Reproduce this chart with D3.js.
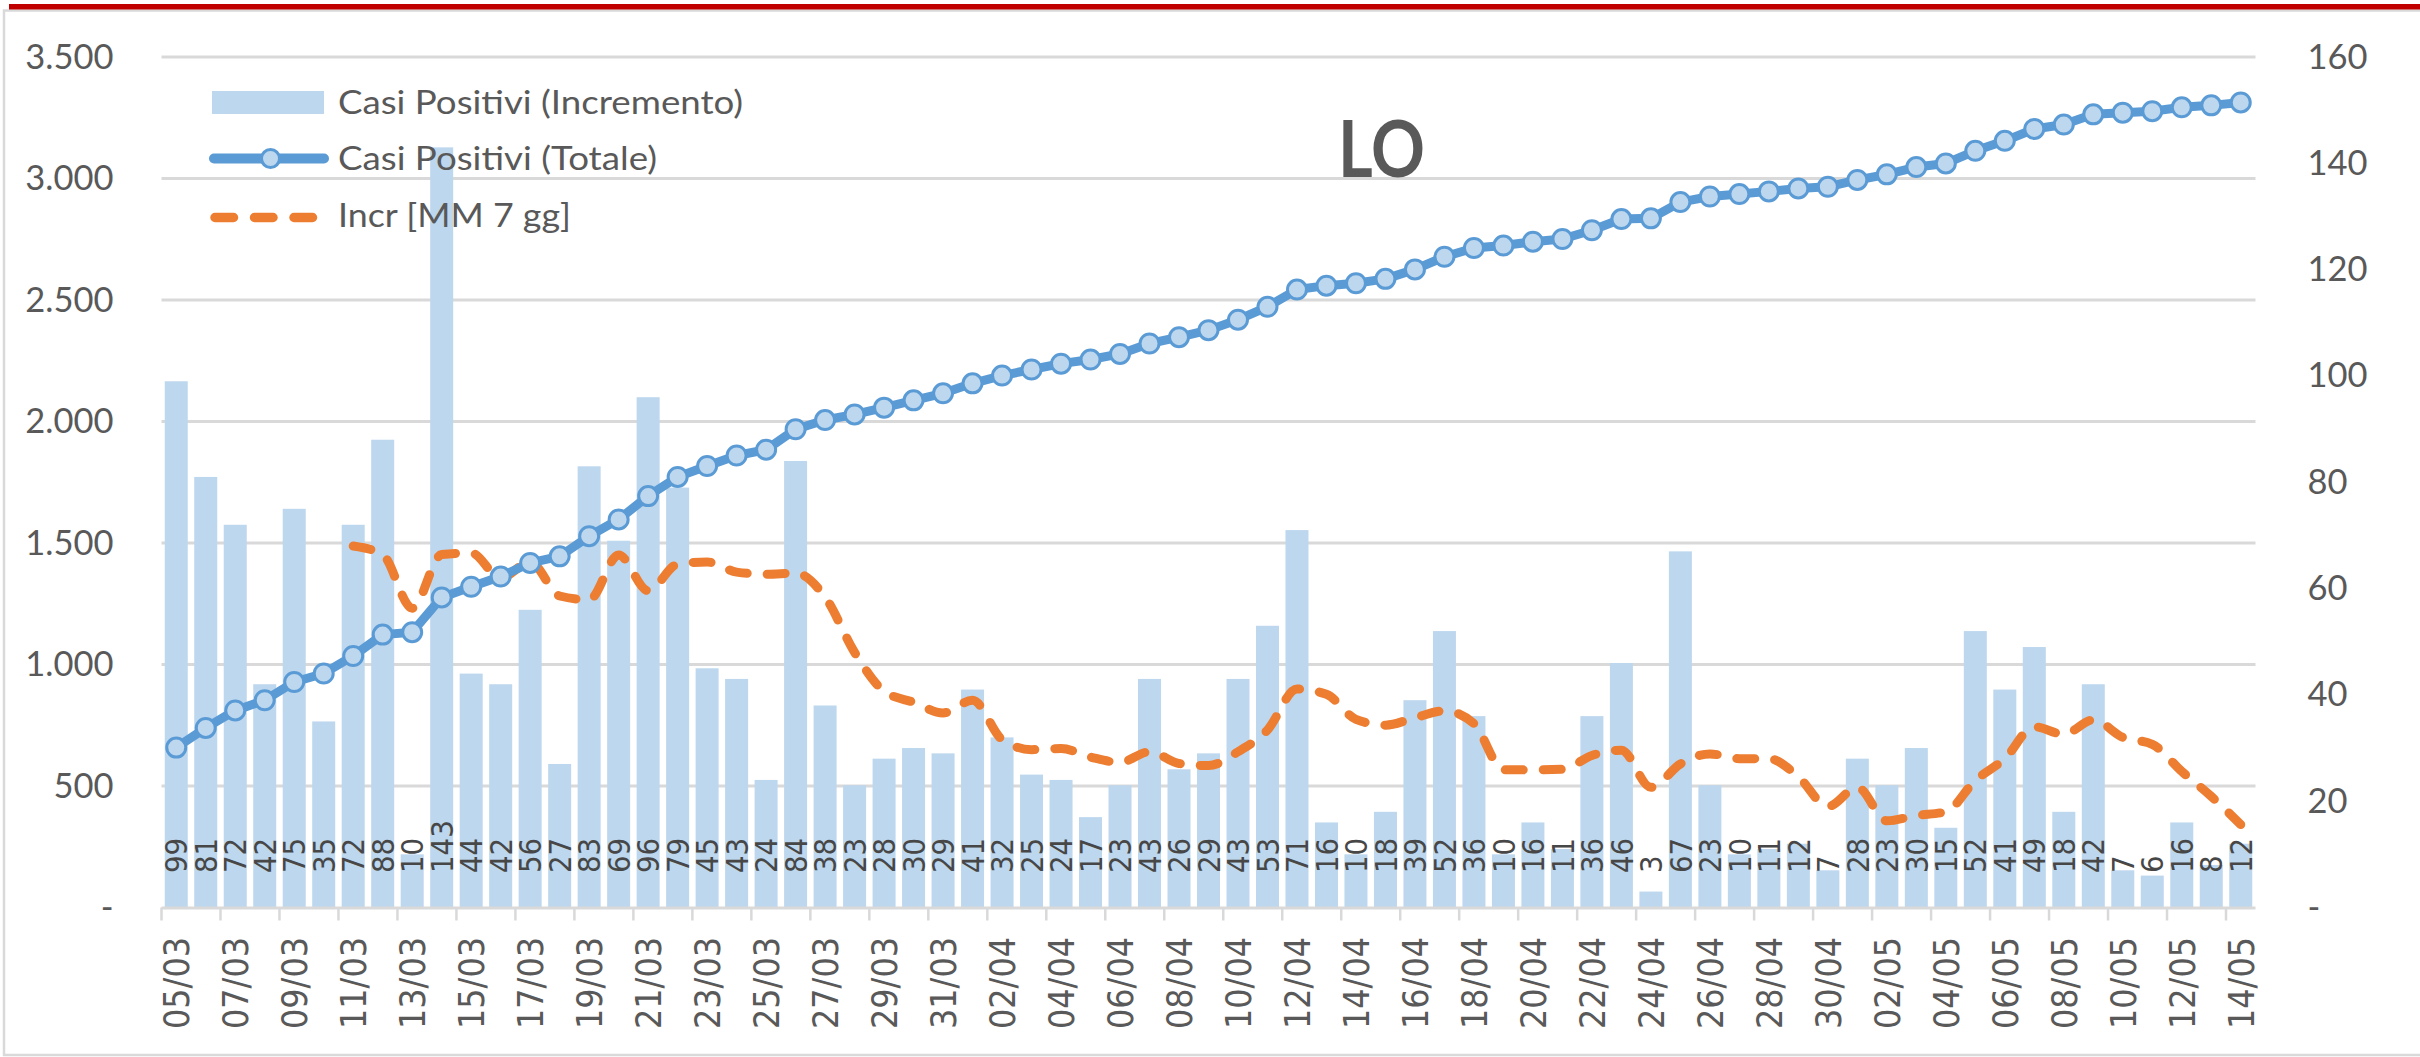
<!DOCTYPE html>
<html>
<head>
<meta charset="utf-8">
<script src="https://cdn.jsdelivr.net/npm/d3@7"></script>
<style>
  html, body { margin: 0; padding: 0; background: #ffffff; overflow: hidden; }
</style>
</head>
<body>
<svg id="chart" width="2420" height="1057"></svg>
<script>
// Daily dates, 05/03 → 14/05
const dates = [
  "05/03","06/03","07/03","08/03","09/03","10/03","11/03","12/03","13/03","14/03",
  "15/03","16/03","17/03","18/03","19/03","20/03","21/03","22/03","23/03","24/03",
  "25/03","26/03","27/03","28/03","29/03","30/03","31/03",
  "01/04","02/04","03/04","04/04","05/04","06/04","07/04","08/04","09/04","10/04",
  "11/04","12/04","13/04","14/04","15/04","16/04","17/04","18/04","19/04","20/04",
  "21/04","22/04","23/04","24/04","25/04","26/04","27/04","28/04","29/04","30/04",
  "01/05","02/05","03/05","04/05","05/05","06/05","07/05","08/05","09/05","10/05",
  "11/05","12/05","13/05","14/05"
];

// Casi Positivi (Incremento) – daily new cases
const incremento = [
  99, 81, 72, 42, 75, 35, 72, 88, 10, 143,
  44, 42, 56, 27, 83, 69, 96, 79, 45, 43,
  24, 84, 38, 23, 28, 30, 29,
  41, 32, 25, 24, 17, 23, 43, 26, 29, 43,
  53, 71, 16, 10, 18, 39, 52, 36, 10, 16,
  11, 36, 46, 3, 67, 23, 10, 11, 12, 7,
  28, 23, 30, 15, 52, 41, 49, 18, 42, 7,
  6, 16, 8, 12
];

// Casi Positivi (Totale) – cumulative cases
const totale = [
  658, 739, 811, 853, 928, 963, 1035, 1123, 1133, 1276,
  1320, 1362, 1418, 1445, 1528, 1597, 1693, 1772, 1817, 1860,
  1884, 1968, 2006, 2029, 2057, 2087, 2116,
  2157, 2189, 2214, 2238, 2255, 2278, 2321, 2347, 2376, 2419,
  2472, 2543, 2559, 2569, 2587, 2626, 2678, 2714, 2724, 2740,
  2751, 2787, 2833, 2836, 2903, 2926, 2936, 2947, 2959, 2966,
  2994, 3017, 3047, 3062, 3114, 3155, 3204, 3222, 3264, 3271,
  3277, 3293, 3301, 3313
];

// Incr [MM 7 gg] – 7-day moving average of the daily increment
const mediaMobile7 = [
  null, null, null, null, null, null, 68.0, 66.4, 56.3, 66.4,
  66.7, 62.0, 65.0, 58.6, 57.9, 66.3, 59.6, 64.6, 65.0, 63.1,
  62.7, 62.9, 58.4, 48.0, 40.7, 38.6, 36.6,
  39.0, 31.6, 29.7, 29.9, 28.3, 27.3, 29.3, 27.1, 26.7, 29.3,
  33.4, 41.1, 40.1, 35.4, 34.3, 35.7, 37.0, 34.6, 25.9, 25.9,
  26.0, 28.6, 29.6, 22.6, 27.0, 28.9, 28.0, 28.0, 24.6, 19.0,
  22.6, 16.3, 17.3, 18.0, 23.9, 28.0, 34.0, 32.6, 35.3, 32.0,
  30.7, 25.6, 20.9, 15.6
];

const leftTicks = [0, 500, 1000, 1500, 2000, 2500, 3000, 3500];
const rightTicks = [0, 20, 40, 60, 80, 100, 120, 140, 160];
const seriesNames = ["Casi Positivi (Incremento)", "Casi Positivi (Totale)", "Incr [MM 7 gg]"];
const areaLabel = "LO";

// ---------------------------------------------------------------------------
const plot = { left: 161.5, right: 2255.5, top: 57, bottom: 907.5 };
const C = {
  bar: "#bdd7ee", line: "#5b9bd5", marker: "#bdd7ee", avg: "#ed7d31",
  grid: "#d9d9d9", text: "#595959", label: "#474747", red: "#c00000"
};
const svg = d3.select("#chart");

// outer frame and red top rule
svg.append("rect").attr("x", 4).attr("y", 10.5).attr("width", 2440).attr("height", 1044.5)
  .attr("fill", "none").attr("stroke", C.grid).attr("stroke-width", 2.5);
svg.append("rect").attr("x", 9).attr("y", 4).attr("width", 2411).attr("height", 5.5)
  .attr("fill", C.red);

// scales
const x = d3.scaleBand().domain(dates).range([plot.left, plot.right]).padding(0);
const bw = x.bandwidth();
const cx = d => x(d) + bw / 2;
const yL = d3.scaleLinear().domain([0, 3500]).range([plot.bottom, plot.top]);
const yR = d3.scaleLinear().domain([0, 160]).range([plot.bottom, plot.top]);

// horizontal gridlines on the left-axis ticks
svg.append("g").selectAll("line")
  .data(leftTicks.filter(t => t > 0))
  .join("line")
  .attr("x1", plot.left).attr("x2", plot.right)
  .attr("y1", d => yL(d)).attr("y2", d => yL(d))
  .attr("stroke", C.grid).attr("stroke-width", 3);

// y axes
const fmtIt = d => d === 0 ? "-" : d3.format(",")(d).replace(/,/g, ".");
const gL = svg.append("g")
  .attr("transform", `translate(${plot.left},0)`)
  .call(d3.axisLeft(yL).tickValues(leftTicks).tickSize(0).tickPadding(48).tickFormat(fmtIt));
gL.select(".domain").remove();
gL.attr("font-family", "Lato, 'Open Sans', sans-serif").attr("font-size", 34.5);
gL.selectAll("text").attr("fill", C.text);

const gR = svg.append("g")
  .attr("transform", `translate(${plot.right},0)`)
  .call(d3.axisRight(yR).tickValues(rightTicks).tickSize(0).tickPadding(52)
    .tickFormat(d => d === 0 ? "-" : String(d)));
gR.select(".domain").remove();
gR.attr("font-family", "Lato, 'Open Sans', sans-serif").attr("font-size", 34.5);
gR.selectAll("text").attr("fill", C.text);

// bars: daily increment (right axis)
const barW = 23;
svg.append("g").selectAll("rect")
  .data(dates)
  .join("rect")
  .attr("x", (d) => x(d) + (bw - barW) / 2)
  .attr("y", (d, i) => yR(incremento[i]))
  .attr("width", barW)
  .attr("height", (d, i) => plot.bottom - yR(incremento[i]))
  .attr("fill", C.bar);

// category axis line, ticks every second day
svg.append("line")
  .attr("x1", plot.left).attr("x2", plot.right)
  .attr("y1", plot.bottom + 0.5).attr("y2", plot.bottom + 0.5)
  .attr("stroke", C.grid).attr("stroke-width", 3);
const everyOther = dates.filter((d, i) => i % 2 === 0);
svg.append("g").selectAll("line")
  .data(everyOther)
  .join("line")
  .attr("x1", d => x(d)).attr("x2", d => x(d))
  .attr("y1", plot.bottom).attr("y2", plot.bottom + 13)
  .attr("stroke", C.grid).attr("stroke-width", 2.5);

svg.append("g").selectAll("text")
  .data(everyOther)
  .join("text")
  .attr("transform", d => `translate(${cx(d)},937) rotate(-90)`)
  .attr("text-anchor", "end")
  .attr("dy", "0.36em")
  .attr("font-family", "'DejaVu Sans', Verdana, sans-serif")
  .attr("font-size", 36)
  .attr("textLength", 92)
  .attr("lengthAdjust", "spacingAndGlyphs")
  .attr("fill", C.text)
  .text(d => d);

// moving average (right axis), dashed
const avgLine = d3.line()
  .defined((d, i) => mediaMobile7[i] != null)
  .x(d => cx(d))
  .y((d, i) => yR(mediaMobile7[i]))
  .curve(d3.curveMonotoneX);
svg.append("path")
  .attr("d", avgLine(dates))
  .attr("fill", "none")
  .attr("stroke", C.avg)
  .attr("stroke-width", 9)
  .attr("stroke-linecap", "round")
  .attr("stroke-linejoin", "round")
  .attr("stroke-dasharray", "18 20");

// cumulative total (left axis) with markers
const totLine = d3.line().x(d => cx(d)).y((d, i) => yL(totale[i]));
svg.append("path")
  .attr("d", totLine(dates))
  .attr("fill", "none")
  .attr("stroke", C.line)
  .attr("stroke-width", 9)
  .attr("stroke-linejoin", "round");
svg.append("g").selectAll("circle")
  .data(dates)
  .join("circle")
  .attr("cx", d => cx(d))
  .attr("cy", (d, i) => yL(totale[i]))
  .attr("r", 9.5)
  .attr("fill", C.marker)
  .attr("stroke", C.line)
  .attr("stroke-width", 3);

// value labels at the foot of each bar
svg.append("g").selectAll("text")
  .data(dates)
  .join("text")
  .attr("transform", d => `translate(${cx(d)},873) rotate(-90)`)
  .attr("text-anchor", "start")
  .attr("dy", "0.36em")
  .attr("font-family", "'DejaVu Sans', Verdana, sans-serif")
  .attr("font-size", 31)
  .attr("textLength", (d, i) => 17.6 * String(incremento[i]).length)
  .attr("lengthAdjust", "spacingAndGlyphs")
  .attr("fill", C.label)
  .text((d, i) => incremento[i]);

// legend
const lg = svg.append("g").attr("font-family", "Lato, 'Open Sans', sans-serif")
  .attr("font-size", 33).attr("fill", C.text);
lg.append("rect").attr("x", 212).attr("y", 91).attr("width", 112).attr("height", 23).attr("fill", C.bar);
lg.append("line").attr("x1", 214).attr("x2", 324).attr("y1", 158.5).attr("y2", 158.5)
  .attr("stroke", C.line).attr("stroke-width", 10).attr("stroke-linecap", "round");
lg.append("circle").attr("cx", 270.5).attr("cy", 158.5).attr("r", 9)
  .attr("fill", C.marker).attr("stroke", C.line).attr("stroke-width", 3);
lg.append("line").attr("x1", 215).attr("x2", 315).attr("y1", 217.5).attr("y2", 217.5)
  .attr("stroke", C.avg).attr("stroke-width", 9.5).attr("stroke-linecap", "round")
  .attr("stroke-dasharray", "18.5 21");
const legendText = [
  { t: seriesNames[0], y: 114, w: 405 },
  { t: seriesNames[1], y: 170, w: 319 },
  { t: seriesNames[2], y: 227, w: 233 }
];
lg.selectAll("text")
  .data(legendText)
  .join("text")
  .attr("x", 338).attr("y", d => d.y)
  .attr("textLength", d => d.w)
  .attr("lengthAdjust", "spacingAndGlyphs")
  .text(d => d.t);

// area code
svg.append("text")
  .attr("x", 1338).attr("y", 177)
  .attr("font-family", "Lato, 'Open Sans', sans-serif")
  .attr("font-weight", "bold")
  .attr("font-size", 79)
  .attr("textLength", 87)
  .attr("lengthAdjust", "spacingAndGlyphs")
  .attr("fill", C.text)
  .text(areaLabel);
</script>
</body>
</html>
